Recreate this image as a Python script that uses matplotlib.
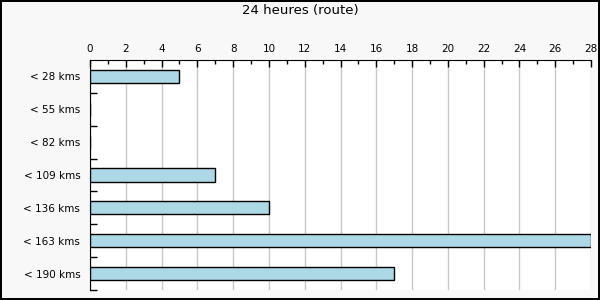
import numpy as np
import matplotlib.pyplot as plt
from matplotlib.ticker import MultipleLocator

categories = ['< 28 kms', '< 55 kms', '< 82 kms', '< 109 kms', '< 136 kms', '< 163 kms', '< 190 kms']
values = [5, 0, 0, 7, 10, 28, 17]
xticks = list(range(0, 29, 2))

fig = plt.figure(figsize=(6, 3), dpi=100)
fig.patch.set_facecolor('#f8f8f8')
fig.patch.set_edgecolor('black')
fig.patch.set_linewidth(1.5)

ax = fig.add_axes([0.15, 0.0333, 0.835, 0.7667])
ax.set_facecolor('white')

ind = np.arange(len(categories))
ax.barh(ind, values, height=0.4, color='lightblue', edgecolor='black', linewidth=1, zorder=3)

ax.set_ylim(len(categories) - 0.5, -0.5)
ax.set_xlim(0, 28)

# category labels without tick marks, boundary ticks pointing in
ax.set_yticks(ind)
ax.set_yticklabels(categories, fontsize=7.5)
ax.tick_params(axis='y', which='major', length=0, pad=7)
ax.set_yticks(np.arange(0.5, len(categories), 1), minor=True)
ax.tick_params(axis='y', which='minor', direction='in', length=5, width=1)

ax.xaxis.tick_top()
ax.set_xticks(xticks)
ax.xaxis.set_minor_locator(MultipleLocator(1))
ax.tick_params(axis='x', which='major', direction='in', length=5, width=1, labelsize=7.5, pad=4)
ax.tick_params(axis='x', which='minor', direction='in', length=3, width=1)
ax.grid(axis='x', color='#c8c8c8', linewidth=1, zorder=0)

ax.spines['right'].set_visible(False)
ax.spines['bottom'].set_visible(False)

fig.text(0.5, 0.965, '24 heures (route)', ha='center', va='center', fontsize=9.5)

fig.savefig('out.png', dpi=100, facecolor=fig.get_facecolor(), edgecolor=fig.get_edgecolor())
